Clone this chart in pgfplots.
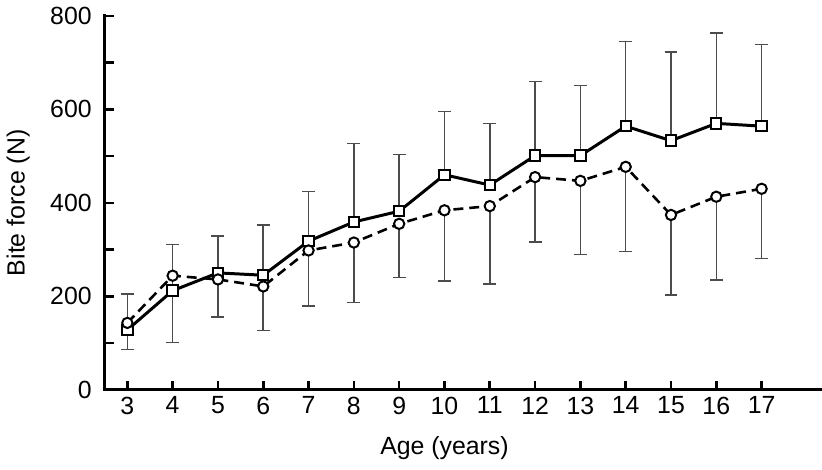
\documentclass[border=0pt]{standalone}
\usepackage{fontspec}
\setmainfont{Liberation Sans}
\usepackage{pgfplots}
\usepackage{pgfplotstable}
\pgfplotsset{compat=1.18}

% age, mean, upper SD (squares) / lower SD (circles)
\pgfplotstableread{
age mean err
3  128  77
4  212  99
5  250  79
6  245 108
7  318 106
8  359 168
9  382 121
10 460 135
11 438 132
12 501 159
13 501 150
14 564 181
15 533 190
16 570 194
17 564 175
}\squares
\pgfplotstableread{
age mean err
3  143  57
4  244 143
5  236  81
6  221  94
7  298 119
8  315 128
9  355 115
10 384 151
11 393 167
12 455 139
13 447 158
14 477 181
15 374 171
16 413 178
17 430 149
}\circles

\begin{document}
\begin{tikzpicture}
\begin{axis}[
  scale only axis,
  width=360pt, height=188pt,
  xmin=2.5, xmax=18.3,
  ymin=0, ymax=800,
  axis line style={draw=none},
  xtick pos=left, ytick pos=left,
  tick align=inside,
  major tick length=4.5pt,
  minor tick length=4.5pt,
  tick style={line width=1.3pt, black},
  xtick={3,...,17},
  ytick={0,200,...,800},
  minor ytick={100,300,500,700},
  font=\fontsize{12.5}{15}\selectfont,
  /pgf/number format/assume math mode=true,
  yticklabel style={xshift=-3pt},
  xticklabel style={yshift=0pt},
  xlabel={Age (years)},
  ylabel={Bite force (N)},
  xlabel style={at={([yshift=-29.5pt]axis cs:10,0)}, anchor=center},
  ylabel style={at={([xshift=-43.5pt]axis description cs:0,0.5)}, anchor=center},
  clip=false,
  error bars/error bar style={solid, line width=0.8pt, black!70},
  error bars/error mark options={solid, rotate=90, mark size=3.25pt, line width=0.8pt, black!70},
]
\draw[line width=1.5pt, line cap=rect] (rel axis cs:0,1) -- (rel axis cs:0,0) -- (rel axis cs:1,0);
\addplot[line width=1.5pt, black, mark=square*,
  mark options={solid, fill=white, line width=1pt, mark size=2.6pt},
  error bars/.cd, y dir=plus, y explicit]
  table[x=age, y=mean, y error=err] {\squares};
\addplot[line width=1.3pt, black, dash pattern=on 5pt off 3pt, mark=*,
  mark options={solid, fill=white, line width=1pt, mark size=2.6pt},
  error bars/.cd, y dir=minus, y explicit]
  table[x=age, y=mean, y error=err] {\circles};
\coordinate (o) at (rel axis cs:0,0);
\coordinate (t) at (rel axis cs:1,1);
\end{axis}
\path ([shift={(-51pt,-40pt)}]o) rectangle ([shift={(0pt,8pt)}]t);
\end{tikzpicture}
\end{document}
